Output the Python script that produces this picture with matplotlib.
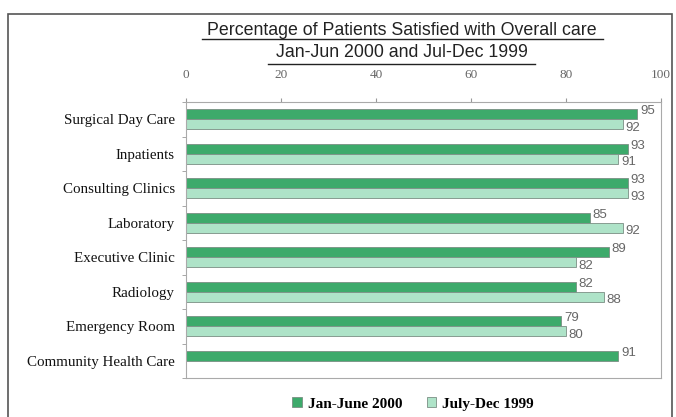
import matplotlib.pyplot as plt
import numpy as np
from matplotlib.patches import Rectangle

categories = [
    "Surgical Day Care",
    "Inpatients",
    "Consulting Clinics",
    "Laboratory",
    "Executive Clinic",
    "Radiology",
    "Emergency Room",
    "Community Health Care",
]
jan_jun_2000 = [95, 93, 93, 85, 89, 82, 79, 91]
jul_dec_1999 = [92, 91, 93, 92, 82, 88, 80, None]
series_labels = ["Jan-June 2000", "July-Dec 1999"]

DARK = "#3daa6b"
LIGHT = "#aee3c8"
EDGE = "#7a8f84"
GREY = "#666666"

fig = plt.figure(figsize=(6.76, 4.17), dpi=100)
ax = fig.add_axes([186 / 676, 1 - 378 / 417, (661 - 186) / 676, (378 - 102) / 417])

y = np.arange(len(categories))
h = 0.29
for i, (a, b) in enumerate(zip(jan_jun_2000, jul_dec_1999)):
    ax.barh(y[i] - h / 2, a, h, color=DARK, edgecolor=EDGE, linewidth=0.6,
            label=series_labels[0] if i == 0 else None)
    ax.text(a + 0.6, y[i] - h * 0.8, f"{a}", ha="left", va="center",
            fontsize=9.5, color=GREY, family="Liberation Sans")
    if b is not None:
        ax.barh(y[i] + h / 2, b, h, color=LIGHT, edgecolor=EDGE, linewidth=0.6,
                label=series_labels[1] if i == 0 else None)
        ax.text(b + 0.6, y[i] + h * 0.85, f"{b}", ha="left", va="center",
                fontsize=9.5, color=GREY, family="Liberation Sans")

ax.set_xlim(0, 100)
ax.set_ylim(len(categories) - 0.5, -0.5)
ax.xaxis.tick_top()
ax.set_xticks(np.arange(0, 101, 20))
ax.tick_params(axis="x", length=3, color="#999999", labelsize=9.5, labelcolor=GREY, pad=12)
for t in ax.get_xticklabels():
    t.set_family("Liberation Serif")
ax.set_yticks(y)
ax.set_yticklabels(categories, family="Liberation Serif", fontsize=10.8, color="#111111")
ax.set_yticks(np.arange(-0.5, len(categories)), minor=True)
ax.tick_params(axis="y", which="major", length=0, pad=8)
ax.tick_params(axis="y", which="minor", length=3, color="#999999")
for s in ax.spines.values():
    s.set_color("#aaaaaa")
    s.set_linewidth(0.8)

fig.text(402 / 676, 1 - 35 / 417, "Percentage of Patients Satisfied with Overall care",
         ha="center", va="baseline", fontsize=12.8, family="Liberation Sans", color="#222222")
fig.text(402 / 676, 1 - 57 / 417, "Jan-Jun 2000 and Jul-Dec 1999",
         ha="center", va="baseline", fontsize=12.8, family="Liberation Sans", color="#222222")
# underlines under the title lines
fig.add_artist(plt.Line2D([202 / 676, 603 / 676], [1 - 39 / 417] * 2, color="#222222", lw=1))
fig.add_artist(plt.Line2D([268 / 676, 535 / 676], [1 - 64 / 417] * 2, color="#222222", lw=1))

# outer frame
fig.add_artist(Rectangle((8 / 676, -0.02), 664 / 676, 1.02 - 14 / 417, transform=fig.transFigure,
                         fill=False, edgecolor="#555555", lw=1.2))

fig.legend(loc="center", bbox_to_anchor=(413 / 676, 1 - 404 / 417), ncol=2,
           frameon=False, handlelength=0.6, handleheight=0.6, handletextpad=0.4,
           columnspacing=1.6, prop={"family": "Liberation Serif", "size": 11, "weight": "bold"})

fig.savefig("out.png", dpi=100)
